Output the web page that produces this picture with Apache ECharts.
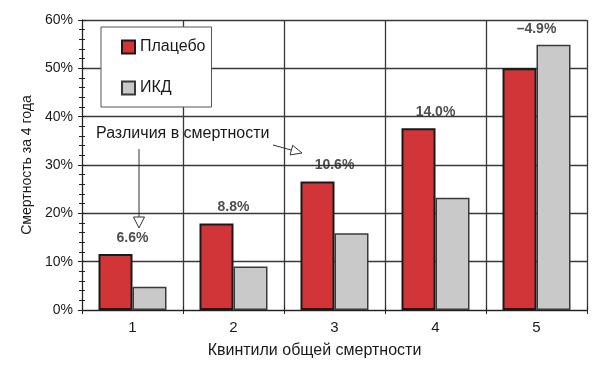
<!DOCTYPE html>
<html>
<head>
<meta charset="utf-8">
<script src="https://cdn.jsdelivr.net/npm/echarts@6/dist/echarts.min.js"></script>
<style>html,body{margin:0;padding:0;background:#fff}#c{width:600px;height:373px}</style>
</head>
<body>
<div id="c"></div>
<script>
var categories = ['1', '2', '3', '4', '5'];
var placebo = [11.6, 17.9, 26.6, 37.6, 50.0];
var icd = [4.8, 9.0, 15.9, 23.2, 54.9];
var diffLabels = ['6.6%', '8.8%', '10.6%', '14.0%', '\u20134.9%'];
var yTicks = [0, 10, 20, 30, 40, 50, 60];

var labelAnchor = placebo.map(function (v, i) { return Math.max(v, icd[i]); });

var chart = echarts.init(document.getElementById('c'), null, {renderer: 'canvas'});
var FONT = 'Liberation Sans, Arial, sans-serif';
var txt = '#1a1a1a';
var gridCol = '#383838';

chart.setOption({
  animation: false,
  backgroundColor: '#fff',
  textStyle: {fontFamily: FONT},
  grid: {left: 82, right: 13, top: 20, bottom: 63},
  legend: {
    orient: 'vertical', left: 101, top: 27,
    padding: [12, 6, 11, 20], itemGap: 25,
    itemWidth: 13, itemHeight: 13,
    backgroundColor: '#fff', borderColor: '#555', borderWidth: 1,
    textStyle: {fontSize: 16, color: txt, fontFamily: FONT},
    data: [{name: 'Плацебо', icon: 'rect'}, {name: 'ИКД', icon: 'rect'}]
  },
  xAxis: [{
    type: 'category', data: categories,
    name: 'Квинтили общей смертности', nameLocation: 'middle', nameGap: 33,
    nameTextStyle: {fontSize: 16, color: txt, padding: [0, 40, 0, 0]},
    axisLine: {lineStyle: {color: '#222', width: 1}},
    axisTick: {show: true, length: 4, lineStyle: {color: '#222'}},
    axisLabel: {fontSize: 15, color: txt, margin: 10},
    splitLine: {show: true, lineStyle: {color: gridCol, width: 1.3}}
  }, {
    type: 'category', data: categories, position: 'bottom',
    axisLine: {show: false},
    axisTick: {show: true, inside: true, length: 4, lineStyle: {color: '#222'}},
    axisLabel: {show: false}, splitLine: {show: false}
  }],
  yAxis: [{
    type: 'value', min: 0, max: 60, interval: 10,
    name: 'Смертность за 4 года', nameLocation: 'middle', nameGap: 46,
    nameTextStyle: {fontSize: 14, color: txt},
    axisLine: {show: true, lineStyle: {color: '#222', width: 1}},
    axisTick: {show: true, length: 4, lineStyle: {color: '#222'}},
    minorTick: {show: true, splitNumber: 5, length: 3, lineStyle: {color: '#222'}},
    axisLabel: {fontSize: 14, color: txt, margin: 9,
      formatter: function (v) { return yTicks.indexOf(v) >= 0 ? v + '%' : ''; }},
    splitLine: {show: true, lineStyle: {color: gridCol, width: 1.3}}
  }, {
    type: 'value', min: 0, max: 60, interval: 10, position: 'left',
    axisLine: {show: false},
    axisTick: {show: true, inside: true, length: 4, lineStyle: {color: '#222'}},
    minorTick: {show: true, splitNumber: 5, length: 3, lineStyle: {color: '#222'}},
    axisLabel: {show: false}, splitLine: {show: false}
  }],
  series: [{
    name: 'Плацебо', type: 'bar', data: placebo, barWidth: 34, barGap: '0%',
    itemStyle: {color: '#d13538', borderColor: '#1a1a1a', borderWidth: 2}
  }, {
    name: 'ИКД', type: 'bar', data: icd, barWidth: 34, barGap: '0%',
    itemStyle: {color: '#c9c9c9', borderColor: '#3a3a3a', borderWidth: 1.5}
  }, {
    name: 'diff', type: 'scatter', data: labelAnchor, symbolSize: 0,
    silent: true, z: 5,
    label: {show: true, position: 'top', distance: 9,
      fontSize: 14, fontWeight: 'bold', color: '#222', fontFamily: FONT,
      formatter: function (p) { return diffLabels[p.dataIndex]; }}
  }],
  graphic: [
    {type: 'text', left: 96, top: 126, z: 10,
     style: {text: 'Различия в смертности', fontSize: 16, fill: txt, fontFamily: FONT}},
    {type: 'line', z: 10, shape: {x1: 139, y1: 149, x2: 139, y2: 217},
     style: {stroke: '#333', lineWidth: 1}},
    {type: 'polygon', z: 10, shape: {points: [[133.5, 217], [144.5, 217], [139, 228]]},
     style: {fill: '#fff', stroke: '#333', lineWidth: 1}},
    {type: 'line', z: 10, shape: {x1: 273, y1: 145, x2: 291.4, y2: 150.1},
     style: {stroke: '#333', lineWidth: 1}},
    {type: 'polygon', z: 10, shape: {points: [[290.1, 154.9], [292.7, 145.3], [302, 153]]},
     style: {fill: '#fff', stroke: '#333', lineWidth: 1}}
  ]
});
</script>
</body>
</html>
